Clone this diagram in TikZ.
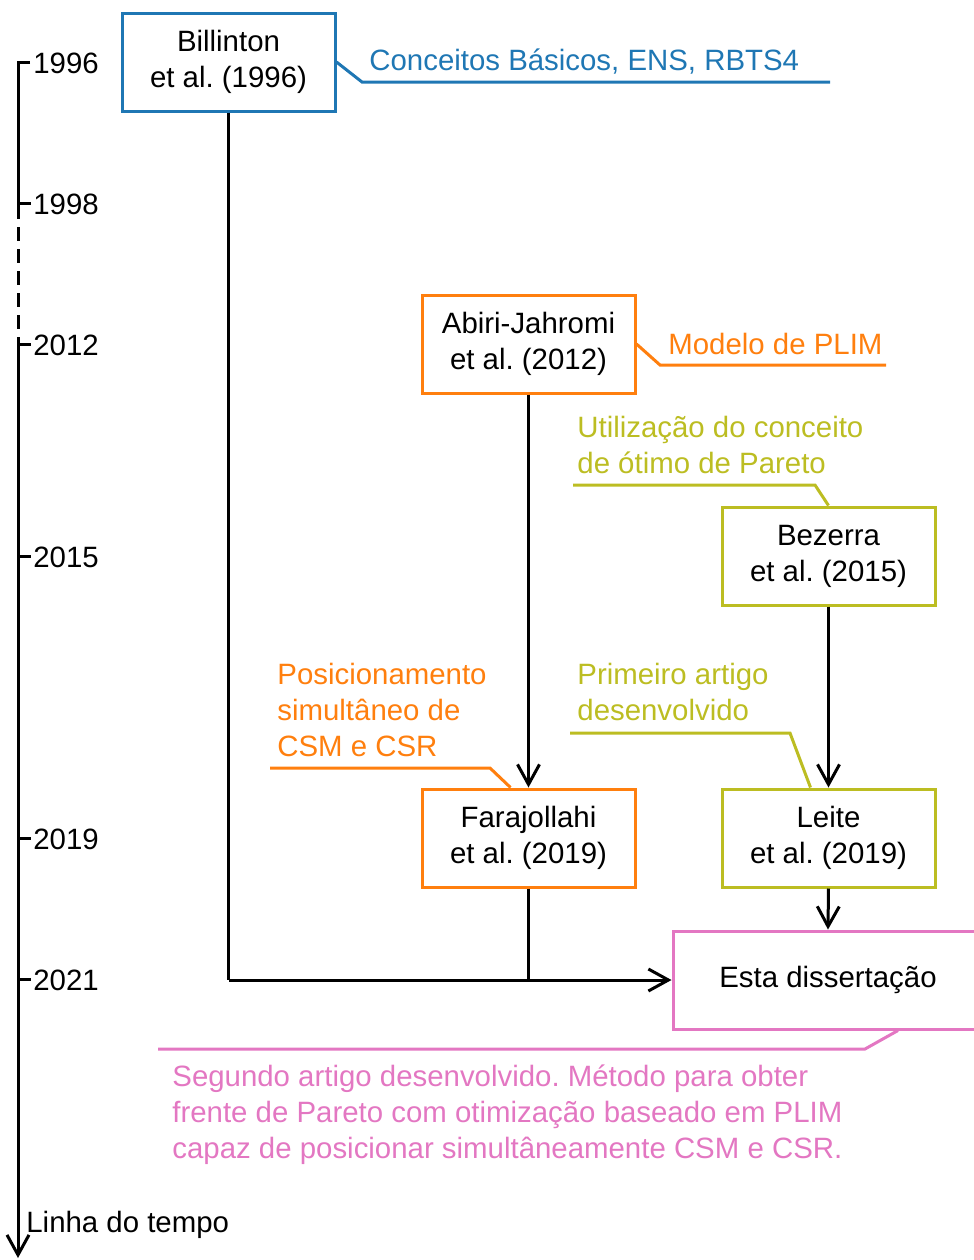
\documentclass[tikz,border=0pt]{standalone}
\usepackage{fontspec}
\setmainfont{Liberation Sans}
\usepackage{tikz, xcolor}
\usetikzlibrary{arrows.meta}
\frenchspacing

\definecolor{refblue}{HTML}{1F77B4}
\definecolor{reforange}{HTML}{FF7F0E}
\definecolor{refolive}{HTML}{BCBD22}
\definecolor{refpink}{HTML}{E377C2}

\begin{document}
\begin{tikzpicture}
	[
		x=0.5pt, y=-0.5pt,
		every node/.style={font=\fontsize{14.7}{18}\selectfont},
		paper/.style={draw, line width=1.5pt, fill=white, minimum width=106.5pt, minimum height=49pt, align=center, inner sep=0pt},
		note/.style={anchor=west, align=left, inner sep=0pt},
		callout/.style={line width=1.5pt},
		link/.style={line width=1.5pt, -{Straight Barb[length=10pt,width=11pt]}},
		timeline/.style={black, line width=1.5pt}
	]
	\useasboundingbox (0,0) rectangle (974,1260);

	% Draw time line.
	\coordinate (top) at (18,62);
	\coordinate (gapstart) at (18,205);
	\coordinate (gapend) at (18,340);
	\coordinate (bottom) at (18,1258);
	\draw[timeline] (30,62) -- (top) -- (gapstart);
	\draw[timeline, dash pattern=on 7pt off 4pt] (gapstart) -- (gapend);
	\draw[timeline, -{Straight Barb[length=10pt,width=11pt]}] (gapend) -- (bottom);
	\node[anchor=west, inner sep=0pt] (y1996) at (33,63) {1996};
	\foreach \yr/\ty in {1998/203, 2012/344, 2015/556, 2019/838, 2021/979}
	{
		\draw[timeline] (18,\ty) -- (31,\ty);
		\node[anchor=west, inner sep=0pt] (y\yr) at (33,\ty+1) {\yr};
	}
	\node[anchor=west, inner sep=0pt] (tlabel) at (26,1225) {Linha do tempo};

	% Draw papers.
	\node[paper, draw=refblue] (bil) at (228.5,62) {Billinton\\et al. (1996)};
	\node[paper, draw=reforange] (abi) at (528.5,344) {Abiri-Jahromi\\et al. (2012)};
	\node[paper, draw=refolive] (bez) at (828.5,556) {Bezerra\\et al. (2015)};
	\node[paper, draw=reforange] (far) at (528.5,838) {Farajollahi\\et al. (2019)};
	\node[paper, draw=refolive] (lei) at (828.5,838) {Leite\\et al. (2019)};
	\node[paper, draw=refpink, minimum width=155pt] (esta) at (828,980) {Esta dissertação};

	% Draw links between papers.
	\coordinate (corner) at (bil.south |- esta.west);
	\draw[line width=1.5pt] (bil.south) -- (corner);
	\draw[link] (corner) -- (esta.west);
	\draw[line width=1.5pt] (far.south) -- (far.south |- esta.west);
	\draw[link] (abi.south) -- (far.north);
	\draw[link] (bez.south) -- (lei.north);
	\draw[link] (lei.south) -- (esta.north);

	% Draw notes.
	\node[note, text=refblue] (nbil) at (369,62) {Conceitos Básicos, ENS, RBTS4};
	\draw[callout, refblue] (bil.east) -- (362,82) -- (830,82);

	\node[note, text=reforange] (nabi) at (668,344) {Modelo de PLIM};
	\draw[callout, reforange] (abi.east) -- (660,365) -- (886,365);

	\node[note, text=refolive] (nbez) at (577,445) {Utilização do conceito\\de ótimo de Pareto};
	\draw[callout, refolive] (bez.north) -- (815,485) -- (573,485);

	\node[note, text=reforange] (nfar) at (277,710) {Posicionamento\\simultâneo de\\CSM e CSR};
	\draw[callout, reforange] ([xshift=45pt]far.north west) -- (490,768) -- (270,768);

	\node[note, text=refolive] (nlei) at (577,692) {Primeiro artigo\\desenvolvido};
	\draw[callout, refolive] ([xshift=-9pt]lei.north) -- (790,733) -- (570,733);

	\node[note, text=refpink] (nesta) at (172,1115) {Segundo artigo desenvolvido. Método para obter\\frente de Pareto com otimização baseado em PLIM\\capaz de posicionar simultâneamente CSM e CSR.};
	\draw[callout, refpink] ([xshift=35pt]esta.south) -- (865,1049) -- (158,1049);
\end{tikzpicture}
\end{document}
